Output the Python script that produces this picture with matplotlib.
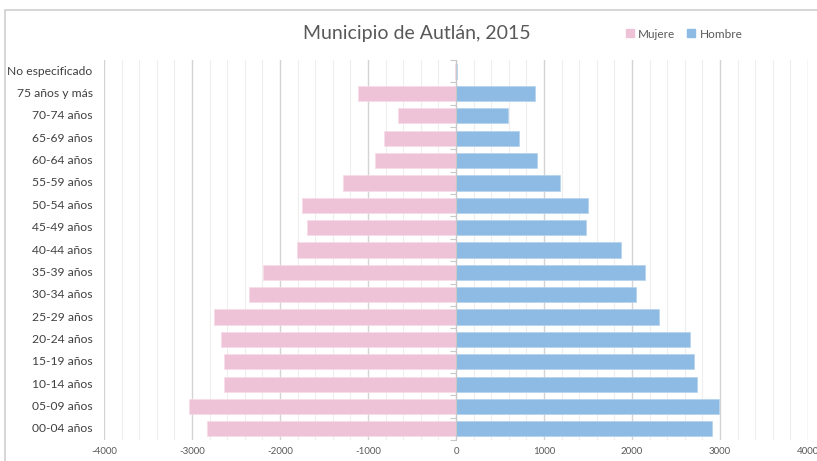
import numpy as np
import matplotlib.pyplot as plt
from matplotlib.patches import Rectangle
from matplotlib.ticker import MultipleLocator

# Datos (de abajo hacia arriba)
grupos = ["00-04 años", "05-09 años", "10-14 años", "15-19 años", "20-24 años",
          "25-29 años", "30-34 años", "35-39 años", "40-44 años", "45-49 años",
          "50-54 años", "55-59 años", "60-64 años", "65-69 años", "70-74 años",
          "75 años y más", "No especificado"]
mujer = [2834, 3037, 2637, 2637, 2674, 2751, 2354, 2191, 1802, 1688,
         1753, 1288, 919, 820, 659, 1117, 15]
hombre = [2910, 2986, 2743, 2701, 2663, 2309, 2041, 2149, 1874, 1474,
          1497, 1177, 918, 720, 594, 903, 8]
ticks_x = [-4000, -3000, -2000, -1000, 0, 1000, 2000, 3000, 4000]

rosa = "#EEC3D7"
azul = "#8DBBE3"
fuente = "Lato"

fig = plt.figure(figsize=(8.17, 4.61), dpi=100)
# marco del area del grafico
fig.patches.append(Rectangle((5/817, -0.1), 1.2, 1 - 10/461 + 0.1, transform=fig.transFigure,
                             fill=False, edgecolor="#d0d0d0", linewidth=1.2))

ax = fig.add_axes([104/817, 1 - 440/461, 704/817, 380/461])
y = np.arange(len(grupos))
ax.barh(y, [-m for m in mujer], height=0.68, color=rosa, edgecolor="#f6dce8", linewidth=0.5, zorder=3)
ax.barh(y, hombre, height=0.68, color=azul, edgecolor="#b5d3ee", linewidth=0.5, zorder=3)

ax.set_xlim(-4000, 4000)
ax.set_ylim(-0.5, len(grupos) - 0.5)
ax.set_xticks(ticks_x)
ax.set_xticklabels([str(t) for t in ticks_x], fontsize=7, color="#595959", family=fuente)
ax.xaxis.set_minor_locator(MultipleLocator(200))
ax.tick_params(axis="x", which="both", length=0, pad=5)
ax.grid(axis="x", which="major", color="#d4d4d4", linewidth=1.0, zorder=0)
ax.grid(axis="x", which="minor", color="#eeeeee", linewidth=0.8, zorder=0)

# eje vertical en cero con marcas entre categorias
for s in ["top", "right", "bottom"]:
    ax.spines[s].set_visible(False)
ax.spines["left"].set_position(("data", 0))
ax.spines["left"].set_color("#c8c8c8")
ax.spines["left"].set_zorder(4)
ax.set_yticks(np.arange(len(grupos) + 1) - 0.5)
ax.set_yticklabels([])
ax.tick_params(axis="y", length=4, color="#c8c8c8", direction="out")

# etiquetas de categorias a la izquierda
for yi, g in zip(y, grupos):
    ax.text(-0.016, yi, g, transform=ax.get_yaxis_transform(),
            ha="right", va="center", fontsize=8.7, color="#404040", family=fuente)

fig.text(417/817, 1 - 34/461, "Municipio de Autlán, 2015", ha="center", va="center",
         fontsize=14, color="#595959", family=fuente)

# leyenda
h1 = Rectangle((0, 0), 1, 1, color=rosa)
h2 = Rectangle((0, 0), 1, 1, color=azul)
fig.legend([h1, h2], ["Mujere", "Hombre"], loc="center", bbox_to_anchor=(684/817, 1 - 34/461),
           ncol=2, frameon=False, handlelength=0.7, handleheight=0.7,
           handletextpad=0.35, columnspacing=1.0, prop={"family": fuente, "size": 8.5},
           labelcolor="#595959")

fig.savefig("out.png", dpi=100)
